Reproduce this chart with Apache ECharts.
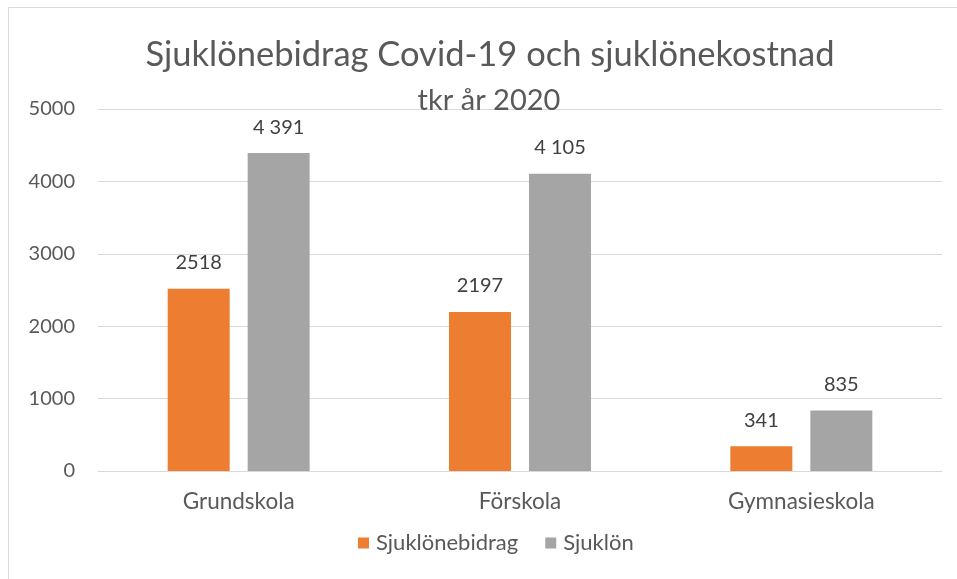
<!DOCTYPE html>
<html><head><meta charset="utf-8">
<script src="https://cdn.jsdelivr.net/npm/echarts@6/dist/echarts.min.js"></script>
<style>html,body{margin:0;padding:0;background:#fff}#c{width:957px;height:579px}</style>
</head><body><div id="c"></div>
<script>
const categories = ['Grundskola', 'Förskola', 'Gymnasieskola'];
const sjuklonebidrag = [2518, 2197, 341];
const sjuklon = [4391, 4105, 835];
const yTicks = [0, 1000, 2000, 3000, 4000, 5000];

const font = 'Lato, sans-serif';
const chart = echarts.init(document.getElementById('c'), null, {renderer: 'canvas'});
function spaced(v) { return String(v).replace(/\B(?=(\d{3})+(?!\d))/g, ' '); }
chart.setOption({
  animation: false,
  graphic: [{type: 'rect', shape: {x: 8.5, y: 7.5, width: 1000, height: 1000}, style: {fill: 'none', stroke: '#d9d9d9', lineWidth: 1}}],
  title: [
    {text: 'Sjuklönebidrag Covid-19 och sjuklönekostnad', left: 485, textAlign: 'center', top: 32, textStyle: {fontFamily: font, fontSize: 34.5, fontWeight: 'normal', color: '#595959'}},
    {text: 'tkr år 2020', left: 484, textAlign: 'center', top: 81, textStyle: {fontFamily: font, fontSize: 29, fontWeight: 'normal', color: '#595959'}}
  ],
  legend: {bottom: 20, left: 353, itemWidth: 11, itemHeight: 11, itemGap: 27, icon: 'rect',
    textStyle: {fontFamily: font, fontSize: 22, color: '#595959', padding: [0, 0, 0, 2]}},
  grid: {left: 98, right: 15, top: 109, bottom: 108, containLabel: false},
  xAxis: {type: 'category', data: categories, axisLine: {lineStyle: {color: '#d9d9d9'}}, axisTick: {show: false},
    axisLabel: {fontFamily: font, fontSize: 22.5, color: '#595959', margin: 19}},
  yAxis: {type: 'value', min: yTicks[0], max: yTicks[yTicks.length - 1], interval: 1000,
    axisLine: {show: false}, axisTick: {show: false},
    splitLine: {lineStyle: {color: '#d9d9d9'}},
    axisLabel: {fontFamily: font, fontSize: 20, color: '#595959', margin: 23, formatter: v => String(v)}},
  series: [
    {name: 'Sjuklönebidrag', type: 'bar', data: sjuklonebidrag, barWidth: 62, barGap: '29%',
      itemStyle: {color: '#ed7d31'},
      label: {show: true, position: 'top', distance: 16, fontFamily: font, fontSize: 20, color: '#404040'}},
    {name: 'Sjuklön', type: 'bar', data: sjuklon, barWidth: 62, barGap: '29%',
      itemStyle: {color: '#a5a5a5'},
      label: {show: true, position: 'top', distance: 16, fontFamily: font, fontSize: 20, color: '#404040',
        formatter: p => spaced(p.value)}}
  ]
});
</script></body></html>
